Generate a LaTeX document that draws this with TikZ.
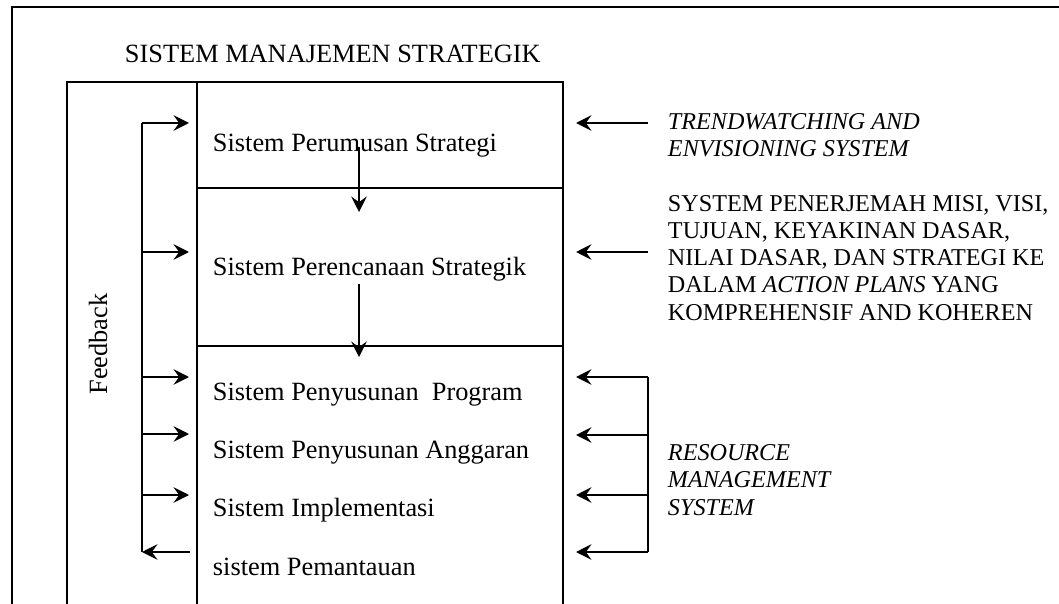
\documentclass[tikz,border=0pt]{standalone}
\usepackage{fontspec}
\setmainfont{Liberation Serif}
\usetikzlibrary{arrows.meta}
\begin{document}
\begin{tikzpicture}[x=0.016cm,y=-0.016cm,line width=0.9pt,
        >={Stealth[length=7pt,width=7pt,inset=2.5pt]},
        sysbox/.style={font=\fontsize{12}{14}\selectfont,anchor=base west,inner sep=0pt},
        sidetext/.style={font=\fontsize{11}{12.3}\selectfont,anchor=base west,align=left,inner sep=0pt}]
                \useasboundingbox (0,0) rectangle (1059,604);
                %% frame and boxes
                \draw[line width=1.1pt] (12,604) -- (12,7) -- (1059,7);
                \draw (67,604) -- (67,82) -- (563,82) -- (563,604);
                \draw (197,82) -- (197,604);
                \draw (197,188) -- (563,188);
                \draw (197,346) -- (563,346);
                %% texts
                \node[sysbox] (title) at (124,63) {SISTEM MANAJEMEN STRATEGIK};
                \node[sysbox] (perumusan) at (212,152) {Sistem Perumusan Strategi};
                \node[sysbox] (perencanaan) at (212,276) {Sistem Perencanaan Strategik};
                \node[sysbox] (program) at (212,400) {Sistem Penyusunan\ \ Program};
                \node[sysbox] (anggaran) at (212,458) {Sistem Penyusunan Anggaran};
                \node[sysbox] (implementasi) at (212,516) {Sistem Implementasi};
                \node[sysbox] (pemantauan) at (212,575) {sistem Pemantauan};
                \node[sysbox,rotate=90,anchor=center] (feedback) at (98,344) {Feedback};
                %% (base of a multi-line node = baseline of its last line)
                \node[sidetext,font=\fontsize{11}{12.3}\selectfont\itshape] (trend) at (667,157)
                    {TRENDWATCHING AND\\ENVISIONING SYSTEM};
                \node[sidetext] (penerjemah) at (667,320)
                    {SYSTEM PENERJEMAH MISI, VISI,\\TUJUAN, KEYAKINAN DASAR,\\NILAI DASAR, DAN STRATEGI KE\\DALAM \textit{ACTION PLANS} YANG\\KOMPREHENSIF AND KOHEREN};
                \node[sidetext,font=\fontsize{11}{12.3}\selectfont\itshape] (resource) at (667,515)
                    {RESOURCE\\MANAGEMENT\\SYSTEM};
                %% feedback loop
                \coordinate (fb1) at (142,123); \coordinate (in1) at (189,123);
                \coordinate (fb2) at (142,252); \coordinate (in2) at (189,252);
                \coordinate (fb3) at (142,377); \coordinate (in3) at (189,377);
                \coordinate (fb4) at (142,434); \coordinate (in4) at (189,434);
                \coordinate (fb5) at (142,495); \coordinate (in5) at (189,495);
                \coordinate (fb6) at (142,552); \coordinate (out6) at (190,552);
                \draw (fb1) -- (fb6);
                \draw[->] (fb1) -- (in1);
                \draw[->] (fb2) -- (in2);
                \draw[->] (fb3) -- (in3);
                \draw[->] (fb4) -- (in4);
                \draw[->] (fb5) -- (in5);
                \draw[->] (out6) -- (fb6);
                %% flow down
                \coordinate (d1) at (359,147); \coordinate (d1end) at (359,212);
                \coordinate (d2) at (359,284); \coordinate (d2end) at (359,357);
                \draw[->] (d1) -- (d1end);
                \draw[->] (d2) -- (d2end);
                %% inputs from the right
                \coordinate (tw) at (648,123); \coordinate (twend) at (576,123);
                \coordinate (pj) at (648,252); \coordinate (pjend) at (576,252);
                \draw[->] (tw) -- (twend);
                \draw[->] (pj) -- (pjend);
                \coordinate (rm1) at (648,377); \coordinate (rm1end) at (576,377);
                \coordinate (rm2) at (648,435); \coordinate (rm2end) at (576,435);
                \coordinate (rm3) at (648,495); \coordinate (rm3end) at (576,495);
                \coordinate (rm4) at (648,552); \coordinate (rm4end) at (576,552);
                \draw (rm1) -- (rm4);
                \draw[->] (rm1) -- (rm1end);
                \draw[->] (rm2) -- (rm2end);
                \draw[->] (rm3) -- (rm3end);
                \draw[->] (rm4) -- (rm4end);
            \end{tikzpicture}
\end{document}
